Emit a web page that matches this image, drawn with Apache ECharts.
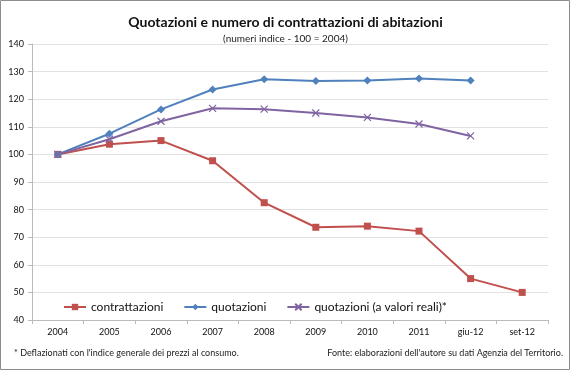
<!DOCTYPE html>
<html><head><meta charset="utf-8">
<script src="https://cdn.jsdelivr.net/npm/echarts@6/dist/echarts.min.js"></script>
<style>html,body{margin:0;padding:0;background:#fff}#c{width:571px;height:371px}</style>
</head><body><div id="c"></div>
<script>
const categories = ['2004','2005','2006','2007','2008','2009','2010','2011','giu-12','set-12'];
const contrattazioni = [100, 103.7, 105, 97.7, 82.5, 73.6, 74, 72.2, 55, 50];
const quotazioni = [100, 107.5, 116.3, 123.5, 127.2, 126.6, 126.8, 127.5, 126.8, null];
const quotazioniReali = [100, 105.5, 112, 116.7, 116.4, 115, 113.4, 111, 106.7, null];
const yTicks = {min: 40, max: 140, interval: 10};

const chart = echarts.init(document.getElementById('c'), null, {renderer: 'canvas'});
const font = 'Lato, sans-serif';
chart.setOption({
  animation: false,
  backgroundColor: '#fff',
  graphic: [
    {type: 'rect', shape: {x: 0.5, y: 0.5, width: 569, height: 369}, style: {fill: 'none', stroke: '#8c8c8c', lineWidth: 1}},
    {type: 'text', left: 14, top: 349, style: {text: "* Deflazionati con l'indice generale dei prezzi al consumo.", font: '9px ' + font, fill: '#222'}},
    {type: 'text', right: 8, top: 349, style: {text: "Fonte: elaborazioni dell'autore su dati Agenzia del Territorio.", font: '9px ' + font, fill: '#222'}}
  ],
  title: {
    text: 'Quotazioni e numero di contrattazioni di abitazioni',
    subtext: '(numeri indice - 100 = 2004)',
    left: 'center', top: 10, itemGap: 5,
    textStyle: {fontFamily: font, fontSize: 14, fontWeight: 'bold', color: '#111'},
    subtextStyle: {fontFamily: font, fontSize: 10, color: '#222'}
  },
  legend: {
    left: 58, top: 296, itemGap: 20, itemWidth: 22, itemHeight: 8,
    textStyle: {fontFamily: font, fontSize: 12, color: '#111'},
    data: ['contrattazioni', 'quotazioni', 'quotazioni (a valori reali)*']
  },
  grid: {left: 32, right: 23, top: 44, bottom: 51, containLabel: false},
  xAxis: {
    type: 'category', data: categories, boundaryGap: true,
    axisLine: {lineStyle: {color: '#bbb'}},
    axisTick: {show: true, alignWithLabel: false, length: 4, lineStyle: {color: '#bbb'}},
    axisLabel: {fontFamily: font, fontSize: 9, color: '#111', margin: 8}
  },
  yAxis: {
    type: 'value', min: yTicks.min, max: yTicks.max, interval: yTicks.interval,
    axisLine: {show: true, lineStyle: {color: '#bbb'}},
    axisTick: {show: true, length: 4, lineStyle: {color: '#bbb'}},
    axisLabel: {fontFamily: font, fontSize: 9, color: '#111', margin: 8},
    splitLine: {lineStyle: {color: '#e2e2e2'}}
  },
  series: [
    {name: 'contrattazioni', type: 'line', data: contrattazioni, symbol: 'rect', symbolSize: 7,
     itemStyle: {color: '#C0504D'}, lineStyle: {color: '#C0504D', width: 2}},
    {name: 'quotazioni', type: 'line', data: quotazioni, symbol: 'diamond', symbolSize: 8,
     itemStyle: {color: '#4F81BD'}, lineStyle: {color: '#4F81BD', width: 2}},
    {name: 'quotazioni (a valori reali)*', type: 'line', data: quotazioniReali,
     symbol: 'path://M0,0 L10,10 M10,0 L0,10', symbolSize: 7,
     itemStyle: {color: 'none', borderColor: '#8064A2', borderWidth: 1.2}, lineStyle: {color: '#8064A2', width: 2}}
  ]
});
</script></body></html>
